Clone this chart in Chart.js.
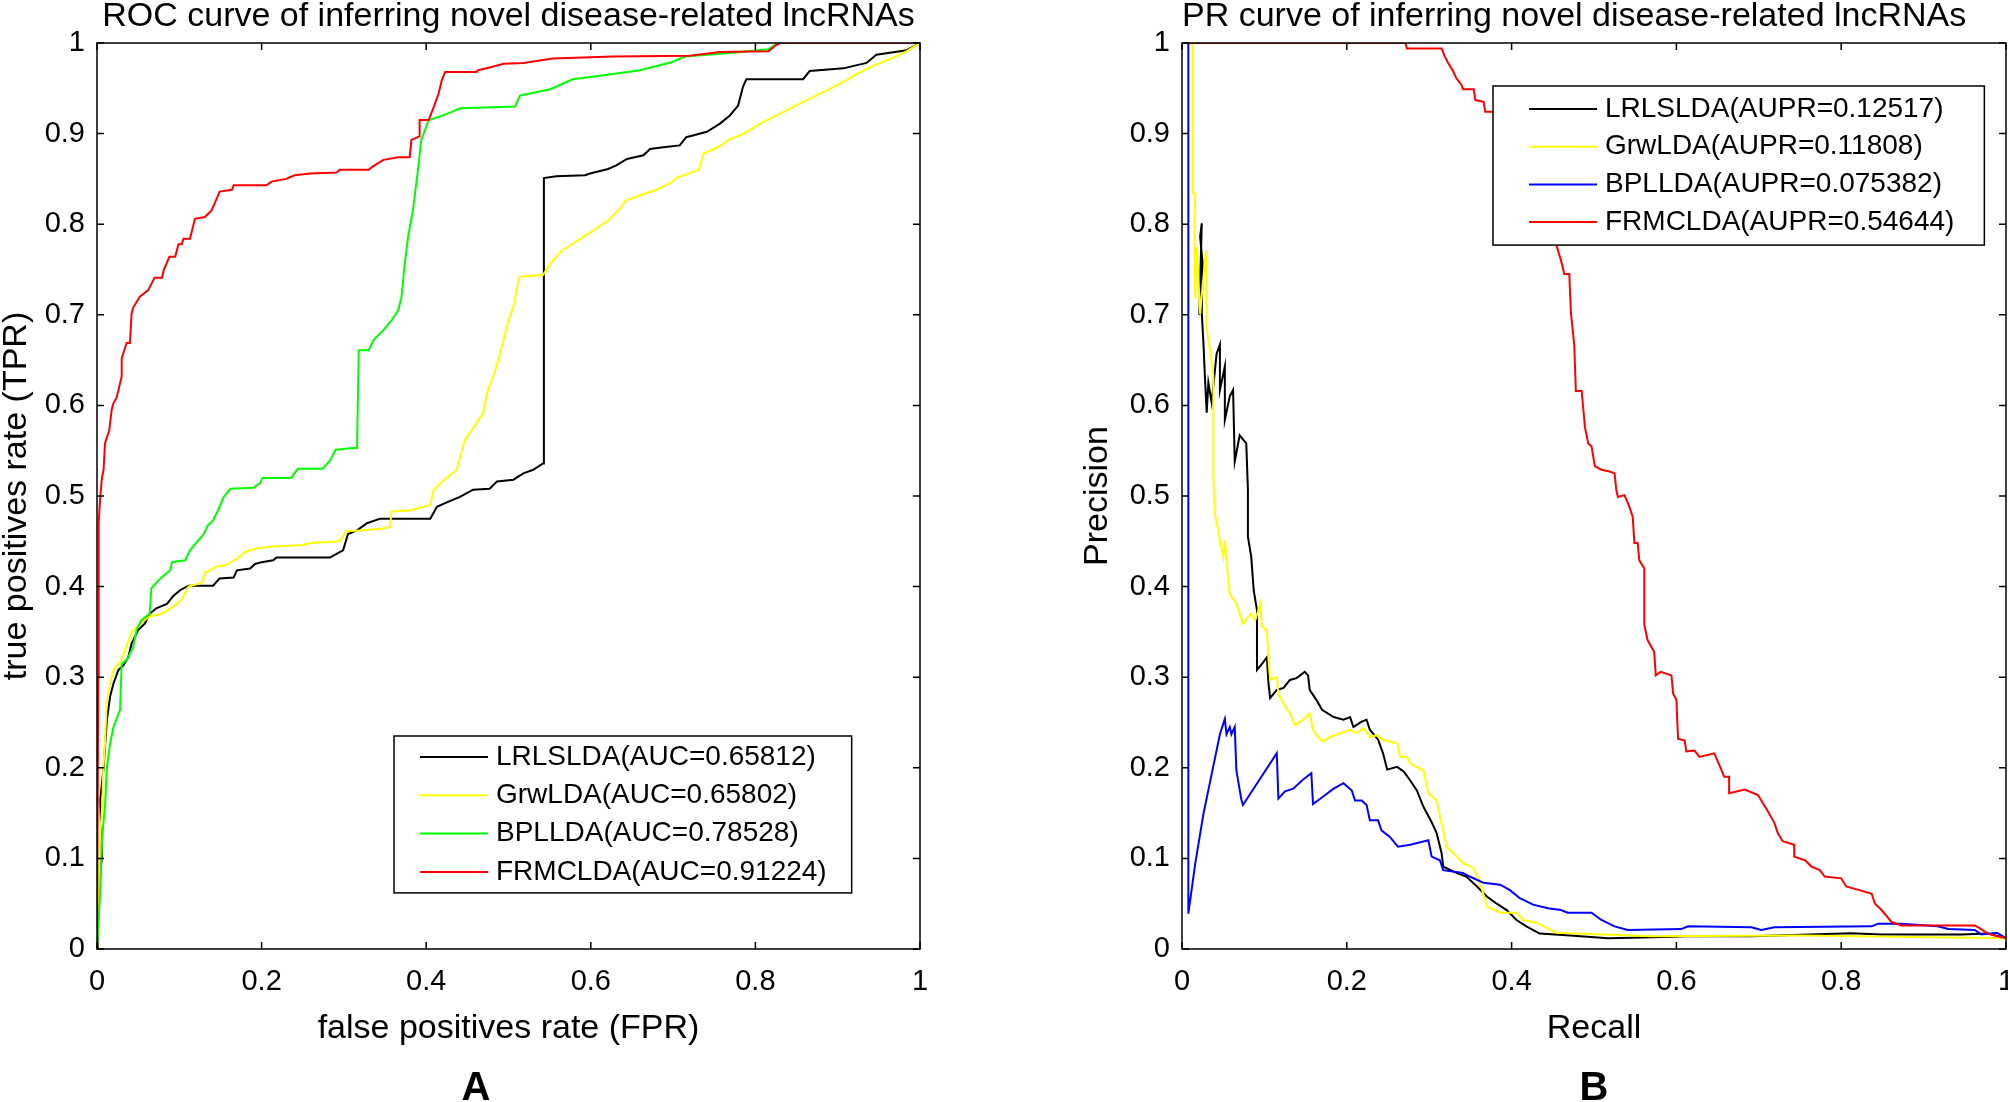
<!DOCTYPE html>
<html>
<head>
<meta charset="utf-8">
<script src="https://cdn.jsdelivr.net/npm/chart.js@4.4.1/dist/chart.umd.min.js"></script>
<style>
  html, body { margin: 0; padding: 0; background: #fff; overflow: hidden; }
  #wrap { position: relative; width: 2008px; height: 1102px; }
  canvas { position: absolute; top: 0; }
  .panel-tag { position: absolute; top: 1066px; width: 100px; text-align: center; color: #000;
               font: bold 40px "Liberation Sans", Arial, sans-serif; line-height: 40px; }
</style>
</head>
<body>
<div id="wrap">
  <canvas id="rocChart" width="1040" height="1102" style="left:0"></canvas>
  <canvas id="prChart" width="968" height="1102" style="left:1040px"></canvas>
  <div class="panel-tag" style="left:426px">A</div>
  <div class="panel-tag" style="left:1544px">B</div>
</div>
<script>
// ---- data ----
const methods = ['LRLSLDA', 'GrwLDA', 'BPLLDA', 'FRMCLDA'];
const rocAUC = [0.65812, 0.65802, 0.78528, 0.91224];
const prAUPR = [0.12517, 0.11808, 0.075382, 0.54644];

const xTickValues = [0, 0.2, 0.4, 0.6, 0.8, 1];
const yTickValues = [0, 0.1, 0.2, 0.3, 0.4, 0.5, 0.6, 0.7, 0.8, 0.9, 1];

// ROC curves, [FPR, TPR]
const rocLRLSLDA = [[0,0],[0.001,0.06],[0.006,0.102],[0.004,0.165],[0.008,0.2],[0.012,0.253],[0.016,0.279],[0.02,0.293],[0.026,0.308],[0.032,0.313],[0.038,0.322],[0.042,0.337],[0.05,0.352],[0.058,0.359],[0.064,0.37],[0.072,0.376],[0.085,0.381],[0.093,0.39],[0.101,0.396],[0.111,0.401],[0.141,0.401],[0.149,0.409],[0.166,0.41],[0.17,0.418],[0.186,0.42],[0.192,0.425],[0.2,0.427],[0.214,0.429],[0.218,0.432],[0.283,0.432],[0.291,0.436],[0.299,0.44],[0.305,0.458],[0.316,0.462],[0.328,0.47],[0.344,0.475],[0.405,0.475],[0.413,0.488],[0.425,0.493],[0.441,0.499],[0.457,0.507],[0.477,0.508],[0.486,0.516],[0.506,0.518],[0.518,0.525],[0.53,0.529],[0.542,0.536],[0.543,0.851],[0.558,0.853],[0.593,0.854],[0.599,0.856],[0.621,0.861],[0.631,0.865],[0.644,0.872],[0.664,0.876],[0.672,0.883],[0.688,0.885],[0.708,0.887],[0.716,0.896],[0.741,0.902],[0.757,0.911],[0.769,0.92],[0.779,0.931],[0.785,0.952],[0.789,0.96],[0.858,0.96],[0.866,0.969],[0.907,0.972],[0.935,0.978],[0.947,0.987],[0.984,0.992],[1,1]];
const rocGrwLDA = [[0,0],[0.002,0.06],[0.0036,0.12],[0.0065,0.16],[0.0077,0.2],[0.0097,0.227],[0.0117,0.271],[0.016,0.293],[0.02,0.308],[0.028,0.317],[0.034,0.33],[0.042,0.349],[0.052,0.359],[0.064,0.367],[0.079,0.37],[0.089,0.376],[0.099,0.382],[0.105,0.389],[0.111,0.4],[0.127,0.404],[0.131,0.415],[0.145,0.422],[0.158,0.424],[0.17,0.431],[0.182,0.439],[0.194,0.442],[0.21,0.444],[0.251,0.446],[0.259,0.448],[0.295,0.45],[0.303,0.461],[0.32,0.462],[0.348,0.464],[0.356,0.466],[0.358,0.483],[0.38,0.484],[0.405,0.49],[0.409,0.507],[0.421,0.517],[0.429,0.523],[0.437,0.529],[0.447,0.562],[0.469,0.591],[0.475,0.617],[0.484,0.639],[0.492,0.665],[0.5,0.694],[0.506,0.709],[0.512,0.738],[0.514,0.742],[0.542,0.744],[0.554,0.76],[0.565,0.771],[0.579,0.779],[0.591,0.786],[0.603,0.793],[0.621,0.804],[0.633,0.815],[0.643,0.826],[0.66,0.832],[0.68,0.838],[0.698,0.846],[0.704,0.851],[0.731,0.86],[0.737,0.878],[0.757,0.886],[0.767,0.893],[0.786,0.9],[0.81,0.913],[0.83,0.922],[0.858,0.935],[0.883,0.946],[0.911,0.959],[0.923,0.966],[0.944,0.975],[0.968,0.984],[0.984,0.991],[1,1]];
const rocBPLLDA = [[0,0],[0.002,0.03],[0.004,0.065],[0.006,0.12],[0.01,0.161],[0.012,0.201],[0.016,0.227],[0.02,0.245],[0.028,0.264],[0.03,0.315],[0.036,0.319],[0.044,0.333],[0.048,0.352],[0.054,0.363],[0.064,0.37],[0.066,0.398],[0.077,0.409],[0.089,0.418],[0.091,0.427],[0.107,0.429],[0.113,0.44],[0.123,0.451],[0.129,0.457],[0.135,0.468],[0.141,0.473],[0.147,0.484],[0.154,0.499],[0.162,0.508],[0.19,0.509],[0.198,0.514],[0.201,0.52],[0.236,0.52],[0.244,0.53],[0.274,0.53],[0.283,0.539],[0.29,0.551],[0.311,0.553],[0.316,0.553],[0.318,0.661],[0.33,0.661],[0.336,0.672],[0.348,0.683],[0.358,0.694],[0.366,0.705],[0.37,0.72],[0.374,0.757],[0.378,0.786],[0.384,0.816],[0.39,0.86],[0.394,0.893],[0.403,0.915],[0.417,0.919],[0.431,0.924],[0.441,0.928],[0.508,0.93],[0.514,0.942],[0.551,0.949],[0.578,0.96],[0.629,0.966],[0.66,0.97],[0.699,0.979],[0.7145,0.985],[0.769,0.989],[0.816,0.993],[0.827,1],[1,1]];
const rocFRMCLDA = [[0,0],[0.0015,0.3],[0.002,0.47],[0.004,0.5],[0.006,0.52],[0.008,0.529],[0.0097,0.558],[0.015,0.573],[0.0178,0.595],[0.0198,0.602],[0.024,0.609],[0.03,0.632],[0.03,0.652],[0.036,0.669],[0.04,0.669],[0.042,0.701],[0.044,0.708],[0.052,0.72],[0.062,0.727],[0.07,0.741],[0.079,0.741],[0.081,0.749],[0.088,0.764],[0.095,0.764],[0.099,0.778],[0.103,0.778],[0.105,0.784],[0.113,0.784],[0.119,0.806],[0.131,0.808],[0.139,0.815],[0.143,0.823],[0.149,0.836],[0.164,0.838],[0.166,0.843],[0.206,0.843],[0.212,0.847],[0.23,0.85],[0.24,0.854],[0.259,0.856],[0.291,0.857],[0.295,0.86],[0.33,0.86],[0.334,0.863],[0.348,0.871],[0.366,0.874],[0.38,0.874],[0.382,0.893],[0.392,0.897],[0.392,0.915],[0.403,0.915],[0.409,0.929],[0.415,0.944],[0.419,0.959],[0.423,0.968],[0.461,0.968],[0.463,0.97],[0.477,0.973],[0.494,0.977],[0.518,0.978],[0.554,0.983],[0.627,0.985],[0.72,0.986],[0.757,0.99],[0.816,0.991],[0.824,0.997],[0.83,1],[1,1]];

// PR curves, [Recall, Precision]
const prLRLSLDA = [[0.021,0.7],[0.024,0.801],[0.022,0.786],[0.025,0.757],[0.024,0.702],[0.026,0.669],[0.028,0.628],[0.03,0.592],[0.032,0.625],[0.036,0.603],[0.042,0.657],[0.046,0.667],[0.046,0.617],[0.052,0.643],[0.052,0.584],[0.058,0.61],[0.062,0.617],[0.064,0.538],[0.07,0.567],[0.078,0.558],[0.08,0.507],[0.08,0.455],[0.084,0.433],[0.087,0.396],[0.091,0.374],[0.091,0.308],[0.099,0.317],[0.103,0.322],[0.105,0.293],[0.107,0.277],[0.115,0.286],[0.123,0.288],[0.131,0.297],[0.139,0.299],[0.149,0.306],[0.153,0.302],[0.155,0.286],[0.163,0.275],[0.17,0.264],[0.184,0.256],[0.196,0.253],[0.204,0.256],[0.208,0.245],[0.218,0.251],[0.224,0.253],[0.228,0.242],[0.238,0.231],[0.244,0.216],[0.249,0.198],[0.261,0.201],[0.269,0.196],[0.277,0.186],[0.285,0.175],[0.293,0.157],[0.303,0.14],[0.309,0.128],[0.315,0.106],[0.317,0.091],[0.333,0.084],[0.345,0.08],[0.358,0.069],[0.37,0.058],[0.382,0.05],[0.394,0.043],[0.406,0.032],[0.418,0.025],[0.434,0.017],[0.471,0.015],[0.517,0.012],[0.573,0.013],[0.614,0.014],[0.691,0.014],[0.812,0.0175],[0.849,0.016],[0.946,0.016],[0.978,0.017],[1,0.012]];
const prGrwLDA = [[0.013,1],[0.013,0.834],[0.016,0.833],[0.015,0.792],[0.016,0.718],[0.018,0.775],[0.022,0.701],[0.029,0.771],[0.03,0.683],[0.034,0.661],[0.038,0.632],[0.038,0.518],[0.04,0.481],[0.046,0.451],[0.05,0.433],[0.052,0.451],[0.056,0.407],[0.058,0.392],[0.066,0.381],[0.07,0.37],[0.074,0.359],[0.083,0.37],[0.089,0.363],[0.095,0.381],[0.097,0.356],[0.103,0.352],[0.105,0.319],[0.107,0.297],[0.115,0.3],[0.117,0.282],[0.123,0.271],[0.131,0.26],[0.137,0.247],[0.147,0.253],[0.155,0.26],[0.159,0.242],[0.165,0.234],[0.171,0.229],[0.18,0.234],[0.192,0.238],[0.204,0.242],[0.212,0.238],[0.22,0.244],[0.228,0.234],[0.236,0.236],[0.244,0.231],[0.261,0.227],[0.265,0.212],[0.273,0.212],[0.277,0.205],[0.293,0.197],[0.299,0.172],[0.309,0.164],[0.313,0.146],[0.317,0.131],[0.321,0.113],[0.329,0.106],[0.341,0.095],[0.354,0.089],[0.36,0.077],[0.364,0.066],[0.37,0.047],[0.386,0.04],[0.406,0.04],[0.414,0.032],[0.43,0.029],[0.443,0.023],[0.455,0.018],[0.568,0.014],[0.75,0.015],[1,0.012]];
const prBPLLDA = [[0.0077,1],[0.0077,0.039],[0.016,0.094],[0.026,0.149],[0.036,0.193],[0.046,0.237],[0.052,0.254],[0.054,0.237],[0.058,0.245],[0.06,0.237],[0.064,0.245],[0.066,0.197],[0.072,0.165],[0.074,0.159],[0.115,0.216],[0.117,0.166],[0.125,0.174],[0.135,0.177],[0.147,0.187],[0.157,0.194],[0.159,0.16],[0.171,0.168],[0.184,0.177],[0.196,0.183],[0.206,0.175],[0.21,0.164],[0.218,0.164],[0.224,0.159],[0.228,0.142],[0.238,0.142],[0.242,0.131],[0.252,0.124],[0.262,0.113],[0.277,0.115],[0.299,0.12],[0.303,0.102],[0.313,0.098],[0.317,0.087],[0.341,0.084],[0.349,0.08],[0.366,0.073],[0.386,0.071],[0.398,0.065],[0.41,0.056],[0.426,0.049],[0.444,0.045],[0.46,0.043],[0.468,0.04],[0.497,0.04],[0.509,0.032],[0.525,0.025],[0.541,0.021],[0.606,0.022],[0.614,0.025],[0.691,0.024],[0.703,0.021],[0.719,0.024],[0.837,0.025],[0.845,0.028],[0.873,0.028],[0.917,0.025],[0.93,0.022],[0.962,0.021],[0.97,0.016],[0.989,0.018],[1,0.012]];
const prFRMCLDA = [[0,1],[0.271,1],[0.273,0.994],[0.315,0.994],[0.319,0.985],[0.323,0.978],[0.329,0.969],[0.333,0.961],[0.339,0.954],[0.341,0.949],[0.354,0.949],[0.356,0.937],[0.366,0.935],[0.368,0.924],[0.376,0.924],[0.39,0.91],[0.41,0.88],[0.425,0.85],[0.44,0.82],[0.45,0.79],[0.455,0.775],[0.46,0.76],[0.464,0.745],[0.47,0.745],[0.472,0.702],[0.476,0.667],[0.478,0.616],[0.485,0.616],[0.489,0.576],[0.493,0.558],[0.497,0.555],[0.501,0.533],[0.509,0.529],[0.519,0.527],[0.525,0.525],[0.527,0.507],[0.529,0.499],[0.537,0.501],[0.543,0.488],[0.547,0.477],[0.549,0.448],[0.553,0.448],[0.555,0.429],[0.561,0.42],[0.561,0.358],[0.565,0.341],[0.573,0.328],[0.575,0.302],[0.581,0.306],[0.594,0.302],[0.596,0.282],[0.6,0.275],[0.602,0.232],[0.61,0.23],[0.612,0.218],[0.622,0.219],[0.628,0.212],[0.646,0.216],[0.654,0.199],[0.658,0.19],[0.664,0.19],[0.664,0.172],[0.683,0.176],[0.699,0.17],[0.711,0.152],[0.719,0.139],[0.723,0.128],[0.729,0.119],[0.743,0.115],[0.743,0.102],[0.756,0.098],[0.764,0.091],[0.774,0.087],[0.78,0.08],[0.8,0.078],[0.806,0.069],[0.822,0.065],[0.837,0.061],[0.841,0.05],[0.849,0.043],[0.861,0.03],[0.873,0.026],[0.962,0.026],[0.968,0.023],[0.978,0.017],[0.989,0.014],[1,0.012]];

// ---- styling ----
const rocColors = ['#000000', '#ffff00', '#00ff00', '#ff0000'];
const prColors = ['#000000', '#ffff00', '#0000ff', '#ff0000'];

Chart.defaults.font.family = '"Liberation Sans", Arial, Helvetica, sans-serif';
Chart.defaults.color = '#000';

// box + inward ticks on all four sides, like a matlab axes
const matlabAxes = {
    id: 'matlabAxes',
    afterDatasetsDraw(chart, args, options) {
        const {ctx, chartArea: {left, right, top, bottom}, scales: {x, y}} = chart;
        const len = options.tickLength;
        ctx.save();
        ctx.strokeStyle = '#000';
        ctx.lineWidth = options.lineWidth;
        ctx.beginPath();
        x.ticks.forEach(t => {
            const px = x.getPixelForValue(t.value);
            ctx.moveTo(px, bottom); ctx.lineTo(px, bottom - len);
            ctx.moveTo(px, top); ctx.lineTo(px, top + len);
        });
        y.ticks.forEach(t => {
            const py = y.getPixelForValue(t.value);
            ctx.moveTo(left, py); ctx.lineTo(left + len, py);
            ctx.moveTo(right, py); ctx.lineTo(right - len, py);
        });
        ctx.stroke();
        ctx.strokeRect(left, top, right - left, bottom - top);
        ctx.restore();
    }
};

// legend in a white box inside the plot
const boxLegend = {
    id: 'boxLegend',
    afterDraw(chart, args, options) {
        const {ctx, chartArea} = chart;
        const sets = chart.data.datasets;
        ctx.save();
        ctx.font = options.font;
        const textW = Math.max(...sets.map(d => ctx.measureText(d.label).width));
        const x0 = chartArea.left + options.left;
        const y0 = chartArea.top + options.top;
        const w = options.textX + textW + options.padRight;
        const h = options.firstRow * 2 + options.rowH * (sets.length - 1);
        ctx.fillStyle = '#fff';
        ctx.fillRect(x0, y0, w, h);
        ctx.strokeStyle = '#000';
        ctx.lineWidth = 1.5;
        ctx.strokeRect(x0, y0, w, h);
        ctx.textBaseline = 'middle';
        ctx.textAlign = 'left';
        sets.forEach((d, i) => {
            const cy = y0 + options.firstRow + i * options.rowH;
            ctx.strokeStyle = d.borderColor;
            ctx.lineWidth = 2;
            ctx.beginPath();
            ctx.moveTo(x0 + options.lineX, cy);
            ctx.lineTo(x0 + options.lineX + options.lineLen, cy);
            ctx.stroke();
            ctx.fillStyle = '#000';
            ctx.fillText(d.label, x0 + options.textX, cy);
        });
        ctx.restore();
    }
};

const toXY = arr => arr.map(p => ({x: p[0], y: p[1]}));

function makeChart(canvasId, opt) {
    const datasets = opt.series.map((s, i) => ({
        label: `${methods[i]}(${opt.metric}=${opt.scores[i]})`,
        data: toXY(s),
        borderColor: opt.colors[i],
        backgroundColor: opt.colors[i],
        borderWidth: 2,
        pointRadius: 0,
        tension: 0,
        fill: false,
        order: opt.series.length - i
    }));

    return new Chart(document.getElementById(canvasId), {
        type: 'line',
        data: {datasets},
        options: {
            responsive: false,
            animation: false,
            events: [],
            layout: {padding: {left: 0, right: opt.rightPad, top: 0, bottom: 43}},
            scales: {
                x: {
                    type: 'linear', position: 'bottom', min: 0, max: 1,
                    afterBuildTicks: s => { s.ticks = xTickValues.map(v => ({value: v})); },
                    afterFit: s => { s.height = 110; s.paddingLeft = 0; s.paddingRight = 0; },
                    grid: {display: false, drawTicks: false},
                    border: {display: false},
                    ticks: {padding: 16, maxRotation: 0, autoSkip: false, font: {size: 29},
                            callback: v => String(+v.toFixed(1))},
                    title: {display: true, text: opt.xTitle, font: {size: 34, lineHeight: 1},
                            padding: {top: 0, bottom: 13}}
                },
                y: {
                    type: 'linear', position: 'left', min: 0, max: 1,
                    afterBuildTicks: s => { s.ticks = yTickValues.map(v => ({value: v})); },
                    afterFit: s => { s.width = opt.yAxisWidth; s.paddingTop = 0; s.paddingBottom = 0; },
                    grid: {display: false, drawTicks: false},
                    border: {display: false},
                    ticks: {padding: 12, autoSkip: false, font: {size: 29},
                            callback: v => String(+v.toFixed(1))},
                    title: {display: true, text: opt.yTitle, font: {size: 34, lineHeight: 1},
                            padding: {top: opt.yTitlePad, bottom: 0}}
                }
            },
            plugins: {
                legend: {display: false},
                tooltip: {enabled: false},
                title: {
                    display: true, text: opt.title, fullSize: false, align: opt.titleAlign,
                    color: '#000', font: {size: 34, weight: 'normal', lineHeight: 1},
                    padding: {top: 0, bottom: 9}
                },
                matlabAxes: {tickLength: 7, lineWidth: 1.5},
                boxLegend: Object.assign({font: '28px "Liberation Sans", Arial, sans-serif'}, opt.legend)
            }
        },
        plugins: [matlabAxes, boxLegend]
    });
}

const rocChart = makeChart('rocChart', {
    series: [rocLRLSLDA, rocGrwLDA, rocBPLLDA, rocFRMCLDA],
    colors: rocColors,
    metric: 'AUC',
    scores: rocAUC,
    title: 'ROC curve of inferring novel disease-related lncRNAs',
    titleAlign: 'center',
    xTitle: 'false positives rate (FPR)',
    yTitle: 'true positives rate (TPR)',
    yAxisWidth: 97,
    yTitlePad: 0,
    rightPad: 120,
    legend: {left: 297, top: 693, lineX: 26, lineLen: 68, textX: 102, rowH: 38.3, firstRow: 21, padRight: 25}
});

const prChart = makeChart('prChart', {
    series: [prLRLSLDA, prGrwLDA, prBPLLDA, prFRMCLDA],
    colors: prColors,
    metric: 'AUPR',
    scores: prAUPR,
    title: 'PR curve of inferring novel disease-related lncRNAs',
    titleAlign: 'start',
    xTitle: 'Recall',
    yTitle: 'Precision',
    yAxisWidth: 142,
    yTitlePad: 41,
    rightPad: 2,
    legend: {left: 311, top: 43, lineX: 36, lineLen: 68, textX: 112, rowH: 37.7, firstRow: 23, padRight: 30}
});
</script>
</body>
</html>
